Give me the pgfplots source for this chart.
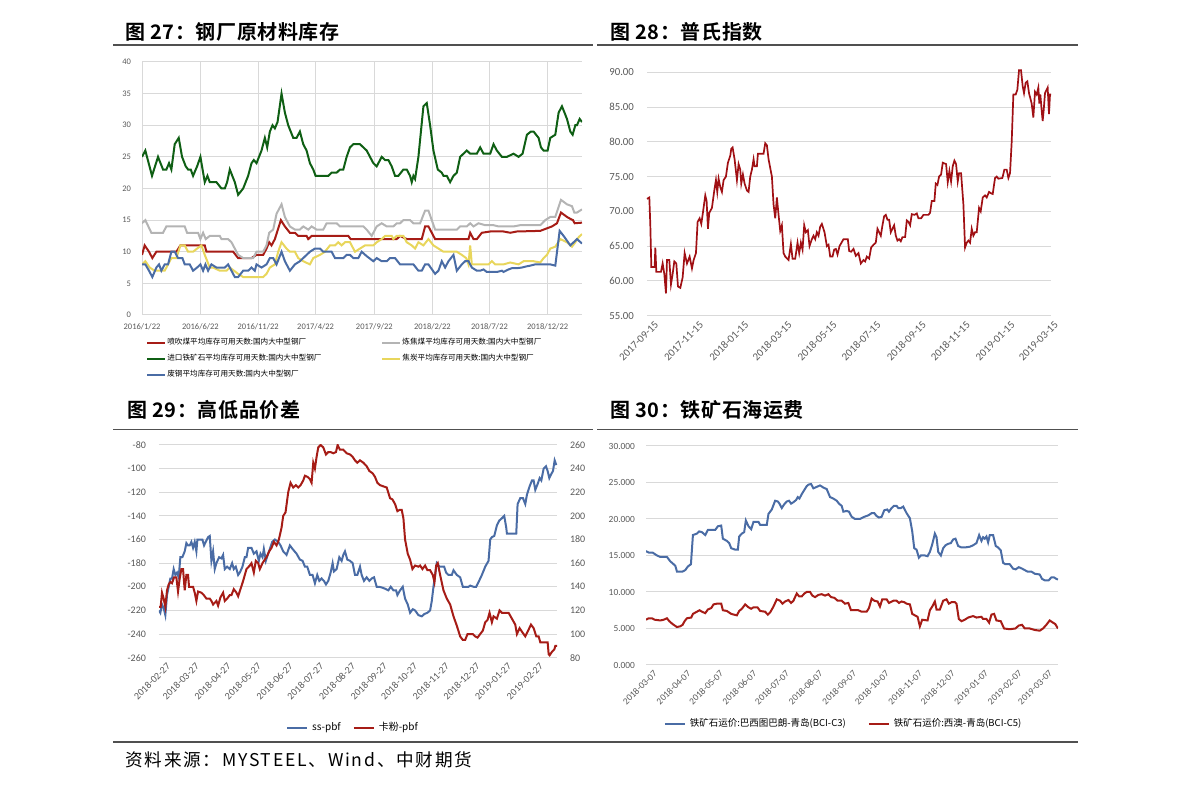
\documentclass[border=0pt]{standalone}
\usepackage{fontspec}
\setmainfont{Carlito}
\newfontfamily\cjk{Noto Sans CJK SC}
\newfontfamily\cjkb{Noto Sans CJK SC Bold}[LetterSpace=3]
\newfontfamily\cjks{Noto Sans CJK SC}[LetterSpace=10]
\usepackage{pgfplots}
\pgfplotsset{compat=1.18}
\definecolor{cRed}{RGB}{166,28,22}
\definecolor{cGreen}{RGB}{15,95,20}
\definecolor{cGray}{RGB}{180,180,180}
\definecolor{cYellow}{RGB}{232,214,92}
\definecolor{cBlue}{RGB}{74,108,165}
\definecolor{cRed2}{RGB}{160,16,20}
\definecolor{gridc}{RGB}{217,217,217}
\definecolor{tickc}{RGB}{89,89,89}
\definecolor{hdr}{RGB}{80,80,80}
\pgfplotsset{
  base/.style={scale only axis, anchor=south west, enlargelimits=false,
    axis line style={draw=none}, major tick length=0pt, tick style={draw=none},
    major grid style={gridc, line width=0.5pt}, ticklabel style={text=tickc},
    /pgf/number format/assume math mode=true, scaled y ticks=false,
    legend cell align=left,
    legend image code/.code={\draw[##1] (0pt,0pt) -- (10pt,0pt);}},
}
\begin{document}
\begin{tikzpicture}
\path[use as bounding box] (0,0) rectangle (595.5pt,395pt);
% header lines
\draw[line width=0.75pt, hdr] (56.5pt,372.5pt) -- (296.5pt,372.5pt);
\draw[line width=0.75pt, hdr] (298.5pt,372.5pt) -- (539pt,372.5pt);
\draw[line width=0.75pt, hdr] (56.5pt,180.25pt) -- (296.5pt,180.25pt);
\draw[line width=0.75pt, hdr] (298.5pt,180.25pt) -- (539pt,180.25pt);
\draw[line width=0.75pt, hdr] (56.5pt,24pt) -- (539pt,24pt);
% titles
\node[anchor=west, inner sep=0pt] at (62.5pt,379pt) {\cjkb\fontsize{10pt}{12pt}\selectfont 图 27：钢厂原材料库存};
\node[anchor=west, inner sep=0pt] at (305pt,379pt) {\cjkb\fontsize{10pt}{12pt}\selectfont 图 28：普氏指数};
\node[anchor=west, inner sep=0pt] at (63.5pt,190pt) {\cjkb\fontsize{10pt}{12pt}\selectfont 图 29：高低品价差};
\node[anchor=west, inner sep=0pt] at (305pt,190pt) {\cjkb\fontsize{10pt}{12pt}\selectfont 图 30：铁矿石海运费};
\node[anchor=west, inner sep=0pt] at (62.5pt,15pt) {\cjks\fontsize{8.8pt}{10pt}\selectfont 资料来源：MYSTEEL、Wind、中财期货};

% ---------------- Panel 27 ----------------
\begin{axis}[base, at={(71pt,237.5pt)}, width=220pt, height=126.5pt,
  xmin=97, xmax=1415, ymin=0, ymax=40, ytick={0,5,...,40},
  xtick={97,272,445,617,793,967,1138,1312},
  xticklabels={2016/1/22,2016/6/22,2016/11/22,2017/4/22,2017/9/22,2018/2/22,2018/7/22,2018/12/22},
  xmajorgrids, ymajorgrids,
  ticklabel style={font=\fontsize{4.25pt}{5pt}\selectfont},
  yticklabel style={xshift=-2pt},
  xticklabel style={yshift=-1pt},
  legend columns=2,
  legend style={draw=none, fill=none, at={(0.009,-0.087)}, anchor=north west,
    font=\cjk\fontsize{3.8pt}{4.5pt}\selectfont, inner sep=0pt, row sep=2.8pt,
    nodes={inner sep=0.5pt, text height=3.2pt, text depth=1pt},
    /tikz/every even column/.append style={column sep=29.5pt}},
  legend image code/.code={\draw[#1] (0pt,0pt) -- (9pt,0pt);},
  every axis plot/.append style={line width=1pt}]
\addplot[cRed] coordinates {(97,9.5)(105,11)(118,10)(128,9)(140,10)(200,10)(212,11)(285,11)(290,10)(370,10)(385,9)(425,9)(440,9.5)(460,9.5)(470,10.5)(478,11.5)(485,11)(495,12)(513,15)(525,14)(540,13)(555,13)(565,12.5)(590,12.5)(595,12)(605,12.5)(715,12.5)(722,12)(860,12)(870,12.5)(890,12)(935,12)(945,14)(955,14)(975,12)(1075,12)(1080,13)(1090,12)(1100,12)(1115,13)(1140,13.2)(1180,13.2)(1200,13)(1220,13.2)(1290,13.3)(1310,13.7)(1325,14)(1340,14.5)(1352,16.2)(1370,15.5)(1380,15.2)(1388,15)(1393,14.5)(1415,14.6)};
\addlegendentry{喷吹煤平均库存可用天数:国内大中型钢厂}
\addplot[cGray] coordinates {(97,14.5)(107,15)(125,13)(160,13)(170,14)(225,14)(232,13)(265,13)(272,12)(280,13)(288,12)(300,12.5)(330,12.5)(335,12)(355,12)(365,11.5)(375,10.5)(385,9.5)(400,9)(430,9)(440,10)(460,10)(470,11)(478,13)(490,13.5)(500,16)(515,17.5)(525,15.5)(540,14)(555,13.5)(570,13.5)(580,14)(595,13.5)(605,14)(620,13.5)(640,13.5)(650,14.5)(680,14.5)(690,14)(760,14)(770,13.5)(785,12.5)(800,14)(815,14.5)(830,14)(850,14)(860,14.5)(870,14.5)(880,15)(900,15)(910,14.5)(930,14.5)(945,16.5)(955,16.5)(975,13.5)(1000,13.5)(1040,13.5)(1050,14)(1070,14)(1080,14.5)(1090,14)(1105,14.5)(1125,14.2)(1150,14.2)(1165,14)(1210,14)(1230,14.2)(1245,14.2)(1290,14.2)(1305,15)(1320,15.5)(1335,15.5)(1352,18.2)(1370,17.5)(1385,17.2)(1392,16.2)(1400,16.2)(1415,16.7)};
\addlegendentry{炼焦煤平均库存可用天数:国内大中型钢厂}
\addplot[cGreen] coordinates {(97,25)(107,26)(127,22)(145,25)(160,23)(170,23)(178,24)(185,23)(195,27)(207,28)(217,25)(228,23.5)(235,23)(243,23)(250,22)(262,23.5)(272,25)(285,21)(293,22)(300,21)(320,21)(335,20)(345,20)(352,21)(360,23)(375,21)(385,19)(400,20)(415,22)(425,24)(432,24.5)(440,24)(455,26)(465,28)(472,26.5)(480,29)(488,30)(495,29.5)(503,30.5)(515,35)(525,32)(535,30)(550,28)(560,28)(570,29)(580,27)(590,26)(600,24)(610,23)(617,22)(655,22)(665,22.5)(680,22.5)(690,23)(700,23)(710,25)(720,26.5)(730,27)(750,27)(760,26.5)(770,26)(790,24)(800,23.5)(815,25)(825,24.5)(835,24.5)(845,23.5)(855,22)(865,22)(880,23)(890,23)(900,22)(905,21)(910,22)(915,21.5)(925,25)(940,33)(950,33.5)(960,30)(970,26)(983,23)(995,22.5)(1000,22)(1010,22)(1020,21)(1030,22)(1040,22.5)(1050,25)(1060,25.5)(1070,26)(1080,25.5)(1100,25.5)(1110,26.5)(1120,25.5)(1140,25.5)(1150,27)(1160,26)(1175,25)(1190,25)(1210,25.5)(1225,25)(1237,25.5)(1250,28.5)(1262,29)(1270,29)(1285,28)(1292,26.5)(1300,26)(1312,26)(1320,28)(1335,28.5)(1345,32)(1355,33)(1370,31)(1380,29)(1387,28.5)(1395,30)(1400,30)(1408,31)(1415,30.5)};
\addlegendentry{进口铁矿石平均库存可用天数:国内大中型钢厂}
\addplot[cYellow] coordinates {(97,8)(107,8.5)(120,7.5)(135,7)(150,7)(165,7)(175,8)(185,9)(200,9)(212,11)(225,11)(235,10)(250,10)(262,10.5)(275,11)(285,9.5)(300,7.5)(310,7.5)(330,7)(350,7)(360,7.5)(385,6.5)(400,6)(460,6)(470,6.5)(480,7.5)(495,8)(505,10)(515,11.5)(530,10.5)(540,10)(555,10)(565,9)(580,8.5)(600,8)(610,9)(630,9.5)(645,10)(660,11)(675,11)(685,11.5)(695,11)(705,11.5)(720,11.5)(735,10)(750,10.5)(765,11)(790,11)(800,11.5)(815,12)(825,12.5)(845,12.5)(850,12)(860,12.5)(880,12.5)(890,11.5)(905,11)(915,10.5)(925,11.5)(940,11)(955,12)(970,11)(985,10.5)(1000,10)(1040,10)(1055,9.5)(1068,9)(1075,8)(1080,11)(1085,8)(1135,8)(1145,8.5)(1155,8)(1180,8)(1200,8.3)(1225,8)(1240,8.5)(1270,8.5)(1290,8.3)(1300,9)(1310,9.5)(1320,10.5)(1335,10.8)(1350,12)(1370,11.5)(1385,10.8)(1395,11.5)(1405,12.3)(1415,12.8)};
\addlegendentry{焦炭平均库存可用天数:国内大中型钢厂}
\addplot[cBlue] coordinates {(97,8)(107,8)(118,7)(128,6)(140,7.5)(148,8)(155,7)(165,8)(175,8)(185,10)(195,10)(205,9)(218,9)(225,8)(240,8)(250,7)(262,7.5)(272,8)(280,7)(287,8)(295,7)(305,8)(320,7.5)(345,7.5)(355,8)(365,7)(375,6)(385,6)(400,7)(415,7)(425,7.5)(435,7)(440,8)(455,7.5)(470,8)(480,9)(490,9)(500,8)(515,10)(525,8.5)(540,7)(555,8)(570,8.5)(590,9.5)(600,10)(615,10.5)(630,10.5)(640,10)(665,10)(675,9)(700,9)(710,9.5)(720,9.5)(730,9)(745,9)(755,10)(770,9.3)(790,8.5)(800,9)(815,8.5)(830,8.5)(840,9)(855,9)(870,8)(910,8)(925,7)(935,7)(945,8)(955,8)(975,6.5)(985,7)(995,8.5)(1005,7.5)(1015,8.5)(1030,9.5)(1040,7)(1055,8)(1065,8.5)(1075,8.5)(1085,7.5)(1100,7)(1110,7)(1120,7.2)(1130,6.8)(1160,6.8)(1175,7)(1180,6.8)(1195,7.2)(1205,7.4)(1220,7.4)(1235,7.5)(1250,7.7)(1260,7.8)(1275,8)(1300,8)(1320,8)(1335,7.8)(1348,13.3)(1360,12.5)(1380,11)(1400,12)(1415,11.3)};
\addlegendentry{废钢平均库存可用天数:国内大中型钢厂}
\end{axis}

% ---------------- Panel 28 ----------------
\begin{axis}[base, at={(323.5pt,237.15pt)}, width=202pt, height=121.7pt,
  xmin=155, xmax=1368, ymin=55, ymax=90, ytick={55,60,...,90}, clip=false,
  xtick={155,290,425,555,690,822,958,1090,1225,1355},
  xticklabels={2017-09-15,2017-11-15,2018-01-15,2018-03-15,2018-05-15,2018-07-15,2018-09-15,2018-11-15,2019-01-15,2019-03-15},
  ymajorgrids,
  yticklabel={\pgfmathprintnumber[fixed,fixed zerofill,precision=2]{\tick}},
  ticklabel style={font=\fontsize{5.4pt}{6pt}\selectfont},
  yticklabel style={xshift=-3pt},
  xticklabel style={rotate=45, anchor=north east, inner sep=1pt, yshift=-3pt, xshift=2pt}]
\addplot[cRed2, line width=0.85pt] coordinates {(155,71.8)(162,72)(165,68)(168,62)(178,62)(180,64.8)(183,61.3)(197,61.3)(202,62.5)(207,61)(212,58.2)(215,63)(222,63)(227,59.5)(232,61)(237,62.8)(243,62.5)(248,59.2)(255,59)(262,60.5)(268,64)(275,62.5)(283,63.5)(290,61.8)(295,63)(302,64)(307,68.5)(313,69)(318,68.2)(322,69.5)(330,72.3)(334,71.5)(338,67.5)(342,69.8)(350,70.5)(357,73)(362,74.5)(366,72.8)(370,74.7)(375,73.5)(380,72.8)(385,74.5)(392,75)(398,77)(405,78)(408,79)(412,79.2)(418,77.5)(425,74.5)(430,76.8)(435,76)(438,74)(443,75.3)(448,74)(455,73)(460,72.8)(465,75)(470,76)(475,77.5)(478,76.5)(485,76.5)(488,78.3)(505,78.3)(510,79.8)(515,79.5)(520,77.5)(530,75)(535,71)(540,69)(545,72)(550,69.5)(555,67.2)(560,68)(565,64)(570,63.5)(580,63)(587,65.3)(592,63.2)(600,63.2)(607,65.5)(612,64)(617,65.5)(622,64.5)(627,68)(632,67)(638,67.3)(643,65)(650,66)(655,66.5)(660,66)(665,67)(670,66.5)(675,67.8)(680,68.2)(688,67)(695,65)(700,65.2)(705,63.5)(712,63.5)(717,64.5)(722,64.6)(727,63.8)(733,65)(745,66)(758,66)(762,64.3)(768,64.2)(775,64.6)(782,63.6)(790,64)(797,62.5)(805,63)(810,62.8)(815,63.5)(822,63.2)(828,64.8)(835,65.2)(842,65.5)(847,67.5)(852,67)(857,66.5)(862,68)(867,69.3)(872,69.5)(877,68.8)(882,68.8)(887,67)(892,67.5)(897,68)(902,66.5)(907,65.8)(912,66)(917,65.7)(922,66.3)(930,66.3)(935,68.7)(940,68.5)(945,68)(950,69.6)(958,69.5)(965,69.7)(970,69)(978,69)(985,69.5)(995,69.5)(1000,69.5)(1005,69.8)(1010,71.5)(1018,71.5)(1022,74)(1027,73.8)(1032,75)(1038,75.3)(1043,77)(1048,76.9)(1053,76.8)(1058,74.2)(1063,75.8)(1068,74.3)(1073,76.5)(1078,77.3)(1083,76.8)(1088,74.3)(1092,75.5)(1098,75.5)(1105,71)(1110,64.8)(1115,65.5)(1120,65.8)(1125,65.5)(1130,67.5)(1135,66.5)(1140,67)(1145,67)(1152,70.5)(1157,70)(1163,72)(1170,72.3)(1175,72)(1182,72.8)(1188,72.6)(1193,72.5)(1200,74.8)(1205,75)(1210,74.7)(1222,74.8)(1228,76)(1235,76)(1240,74.8)(1245,75.5)(1250,80)(1255,86.8)(1262,86.8)(1267,87.5)(1272,90.3)(1278,90.3)(1283,88)(1287,87)(1292,88.5)(1297,88.7)(1302,87)(1310,85.5)(1315,83.5)(1320,87.2)(1325,86.8)(1330,87.8)(1333,85.5)(1336,86.8)(1340,84.5)(1343,83)(1346,84.5)(1350,87)(1355,87.5)(1358,87.8)(1362,84)(1365,86.8)(1368,86.8)};
\end{axis}

% ---------------- Panel 29 ----------------
\begin{axis}[base, at={(79.5pt,66.15pt)}, width=199pt, height=106.35pt,
  xmin=148, xmax=1340, ymin=-260, ymax=-80, ytick={-260,-240,...,-80},
  xtick={148,234,329,420,515,607,702,797,888,983,1075,1170,1265},
  xticklabels={2018-02-27,2018-03-27,2018-04-27,2018-05-27,2018-06-27,2018-07-27,2018-08-27,2018-09-27,2018-10-27,2018-11-27,2018-12-27,2019-01-27,2019-02-27},
  ymajorgrids,
  ticklabel style={font=\fontsize{5pt}{6pt}\selectfont},
  yticklabel style={xshift=-3pt},
  xticklabel style={rotate=45, anchor=north east, inner sep=1pt, yshift=-3pt, xshift=2pt}]
\addplot[cBlue, line width=1pt] coordinates {(148,-220)(152,-222)(157,-215)(162,-218)(167,-224)(172,-207)(177,-200)(182,-193)(187,-193)(192,-185)(197,-190)(202,-188)(207,-192)(212,-175)(218,-175)(225,-170)(230,-163)(235,-165)(240,-165)(245,-162)(250,-167)(255,-162)(260,-170)(263,-160)(270,-160)(278,-160)(283,-165)(288,-162)(295,-158)(300,-157)(305,-178)(310,-170)(315,-185)(320,-180)(328,-175)(335,-176)(340,-173)(345,-185)(352,-183)(360,-185)(367,-180)(372,-185)(378,-183)(385,-190)(390,-188)(398,-183)(405,-175)(410,-175)(415,-167)(425,-167)(432,-172)(440,-170)(447,-178)(452,-172)(458,-175)(462,-168)(468,-178)(475,-172)(480,-168)(487,-162)(495,-160)(505,-162)(512,-165)(520,-170)(530,-173)(540,-165)(548,-168)(560,-172)(570,-177)(578,-178)(585,-183)(592,-183)(600,-190)(608,-190)(615,-197)(622,-190)(628,-195)(635,-193)(642,-195)(648,-198)(655,-195)(662,-188)(668,-180)(672,-187)(680,-185)(688,-175)(695,-178)(700,-173)(705,-170)(712,-177)(720,-178)(728,-180)(735,-190)(742,-190)(750,-183)(755,-190)(762,-195)(770,-192)(778,-195)(785,-193)(792,-192)(800,-200)(808,-200)(820,-201)(835,-203)(842,-200)(850,-203)(858,-203)(862,-207)(870,-203)(878,-200)(885,-210)(893,-215)(900,-222)(908,-219)(915,-220)(925,-224)(935,-225)(943,-223)(952,-222)(960,-220)(965,-212)(970,-200)(975,-190)(980,-180)(988,-183)(995,-183)(1002,-183)(1008,-188)(1015,-190)(1025,-190)(1030,-186)(1040,-190)(1050,-192)(1058,-200)(1065,-200)(1075,-200)(1080,-199)(1090,-200)(1098,-200)(1105,-196)(1115,-190)(1125,-183)(1135,-178)(1140,-160)(1145,-158)(1152,-157)(1160,-148)(1167,-144)(1175,-142)(1182,-140)(1188,-150)(1190,-155)(1218,-155)(1222,-130)(1230,-125)(1238,-125)(1245,-130)(1250,-122)(1258,-115)(1265,-110)(1270,-110)(1275,-118)(1282,-113)(1288,-108)(1293,-110)(1300,-100)(1307,-98)(1312,-102)(1317,-108)(1322,-105)(1328,-102)(1333,-93)(1338,-97)};
\end{axis}
\begin{axis}[base, at={(79.5pt,66.15pt)}, width=199pt, height=106.35pt,
  xmin=148, xmax=1340, ymin=80, ymax=260, ytick={80,100,...,260},
  axis y line*=right, axis x line=none, axis line style={draw=none},
  ticklabel style={font=\fontsize{5pt}{6pt}\selectfont},
  yticklabel style={xshift=3pt},
  legend columns=-1,
  legend style={draw=none, fill=none, at={(0.49,-0.33)}, anchor=center,
    font=\cjk\fontsize{5pt}{6pt}\selectfont, inner sep=0pt,
    /tikz/every even column/.append style={column sep=4pt}}]
\addlegendimage{cBlue, line width=1pt}
\addlegendentry{ss-pbf}
\addplot[cRed, line width=1pt] coordinates {(148,123)(153,123)(157,135)(162,130)(167,123)(172,137)(177,142)(182,144)(187,143)(193,148)(200,148)(205,136)(210,147)(215,155)(220,155)(225,137)(230,150)(235,150)(238,140)(245,140)(250,140)(255,135)(260,128)(265,136)(275,135)(282,133)(290,130)(300,130)(305,128)(310,125)(320,128)(325,124)(332,131)(340,135)(345,128)(352,130)(360,133)(365,133)(372,138)(380,135)(385,132)(392,138)(400,145)(405,150)(410,155)(420,158)(425,160)(432,152)(438,162)(445,160)(450,155)(458,160)(465,163)(470,165)(478,170)(485,173)(492,178)(500,175)(507,180)(515,190)(520,200)(527,203)(535,220)(542,228)(550,224)(558,226)(565,224)(572,226)(580,230)(585,234)(593,233)(600,231)(605,228)(610,245)(615,240)(620,250)(625,258)(632,260)(640,258)(648,252)(655,254)(662,254)(670,253)(678,254)(683,260)(690,256)(700,256)(710,253)(720,252)(728,250)(735,247)(742,245)(750,247)(760,245)(770,242)(778,238)(788,236)(795,233)(802,228)(810,226)(820,225)(830,224)(840,215)(847,214)(855,210)(862,204)(868,205)(875,205)(880,198)(885,180)(893,168)(900,163)(907,155)(915,158)(925,157)(930,158)(937,155)(945,158)(952,154)(960,154)(968,150)(973,144)(978,158)(983,160)(990,150)(1000,137)(1010,130)(1020,125)(1030,115)(1040,107)(1050,98)(1058,95)(1065,95)(1072,100)(1080,100)(1088,100)(1095,98)(1102,97)(1110,100)(1118,103)(1125,110)(1132,112)(1138,118)(1145,110)(1150,115)(1160,113)(1168,120)(1175,118)(1185,118)(1195,118)(1205,113)(1215,108)(1220,100)(1228,105)(1235,102)(1245,98)(1252,102)(1262,108)(1270,105)(1278,98)(1285,98)(1290,93)(1295,93)(1305,93)(1312,93)(1315,83)(1318,82)(1325,85)(1332,87)(1335,90)(1340,90)};
\addlegendentry{卡粉-pbf}
\end{axis}

% ---------------- Panel 30 ----------------
\begin{axis}[base, at={(323pt,62.5pt)}, width=206pt, height=109.5pt,
  xmin=152, xmax=1390, ymin=0, ymax=30, ytick={0,5,...,30},
  xtick={152,253,351,451,549,650,751,849,949,1047,1148,1249,1340},
  xticklabels={2018-03-07,2018-04-07,2018-05-07,2018-06-07,2018-07-07,2018-08-07,2018-09-07,2018-10-07,2018-11-07,2018-12-07,2019-01-07,2019-02-07,2019-03-07},
  ymajorgrids,
  yticklabel={\pgfmathprintnumber[fixed,fixed zerofill,precision=3]{\tick}},
  ticklabel style={font=\fontsize{4.7pt}{5.5pt}\selectfont},
  yticklabel style={xshift=-2pt},
  xticklabel style={rotate=45, anchor=north east, inner sep=1pt, yshift=-3pt, xshift=2pt},
  legend columns=-1,
  legend style={draw=none, fill=none, at={(0.482,-0.269)}, anchor=center,
    font=\cjk\fontsize{4.75pt}{5.5pt}\selectfont, inner sep=0pt,
    /tikz/every even column/.append style={column sep=9pt}},
  every axis plot/.append style={line width=1pt}]
\addplot[cBlue] coordinates {(152,15.6)(160,15.4)(172,15.4)(185,15)(195,14.8)(215,14.8)(225,14.2)(235,13.8)(240,13.6)(245,12.8)(262,12.8)(270,13)(278,13.5)(287,13.8)(293,17.8)(305,18)(312,18.3)(320,18.2)(330,17.8)(338,18.5)(355,18.5)(360,18.5)(368,19)(378,19.1)(383,17.3)(395,17)(402,16.7)(408,16)(420,15.8)(428,15.8)(432,17.6)(440,18)(447,18.2)(452,19.8)(460,19)(468,18.6)(475,19.6)(490,19.6)(495,19.2)(515,19.2)(520,20.7)(530,21.3)(540,22.5)(548,22.4)(553,22.1)(560,21.5)(567,22)(575,22.4)(582,22.5)(588,22.1)(595,22.3)(603,22.6)(608,23)(613,22.8)(620,23.4)(628,24)(635,24.5)(640,24.7)(648,24.8)(655,24.2)(665,24.4)(675,24.6)(685,24.3)(695,24.1)(705,23)(715,22.8)(725,22.5)(732,22.1)(740,21.8)(745,21)(755,21.1)(762,21)(770,20.3)(780,20)(795,20)(808,20.3)(820,20.5)(830,20.8)(838,20.8)(845,20.4)(852,20.2)(860,20.3)(868,21.2)(877,21.3)(882,21)(890,21.5)(897,21.8)(905,21.8)(910,21.5)(918,21.5)(925,21.7)(935,20.8)(945,20.1)(952,18.3)(958,16)(965,15.8)(972,14.7)(978,15)(990,15)(998,14.9)(1005,15.5)(1012,16.5)(1020,18)(1025,17.5)(1030,15.5)(1038,15)(1045,16)(1052,16.4)(1060,16.6)(1068,16.7)(1075,17.2)(1082,17.3)(1090,16.3)(1100,16.1)(1110,16.1)(1125,16.2)(1135,16.4)(1145,16.7)(1153,17.8)(1160,17)(1165,17.5)(1170,17.3)(1175,17.6)(1180,16.8)(1185,17.8)(1195,17.8)(1203,16.3)(1210,16.1)(1218,15.7)(1225,14)(1232,13.8)(1245,13.8)(1255,13.2)(1263,13.1)(1272,13.4)(1282,13.2)(1290,13)(1298,12.8)(1310,12.8)(1320,12.5)(1335,12.4)(1342,11.8)(1350,11.6)(1362,11.6)(1370,12)(1378,12)(1385,11.8)(1390,11.7)};
\addlegendentry{铁矿石运价:巴西图巴朗-青岛(BCI-C3)}
\addplot[cRed] coordinates {(152,6.2)(160,6.4)(170,6.4)(178,6.2)(195,6.1)(205,6.2)(215,6.4)(222,6)(232,5.6)(245,5.2)(255,5.3)(262,5.5)(268,6)(275,6.4)(288,6.5)(293,7)(305,7.3)(313,7.5)(320,7.3)(330,7.1)(338,7.6)(348,7.8)(355,8.3)(365,8.4)(378,8.4)(383,7.5)(395,7.4)(408,7)(425,6.8)(432,7.4)(440,7.7)(450,8.3)(460,7.9)(468,7.7)(475,7.9)(487,7.9)(495,7.4)(510,7.3)(518,6.9)(525,7.2)(535,8)(545,9)(555,8.8)(562,8.4)(570,8.7)(580,8.9)(588,8.5)(595,8.8)(605,9.8)(612,9.4)(620,9.4)(628,9.8)(635,10)(645,10)(652,9.5)(660,9.3)(670,9.6)(680,9.7)(690,9.5)(700,9.7)(708,9.3)(718,9.2)(728,8.8)(740,8.8)(750,8.4)(760,8.5)(768,7.5)(780,7.5)(790,7.5)(800,7.3)(815,7.3)(822,7.8)(830,9.1)(838,8.8)(848,8.7)(855,8)(862,9)(875,9)(882,8.5)(895,8.8)(905,8.8)(912,8.5)(920,8.7)(928,8.6)(935,8.4)(945,8.3)(952,7)(960,6.8)(968,6.6)(975,5.3)(982,6.2)(998,6.1)(1005,7.5)(1012,8)(1020,8.7)(1025,7.6)(1035,7.6)(1045,8.8)(1055,9)(1062,8.4)(1070,8.6)(1080,8.6)(1085,8.4)(1092,6.3)(1100,6)(1110,6.2)(1120,6.5)(1135,6.7)(1145,6.5)(1160,6.6)(1165,6.3)(1175,6.3)(1183,5.8)(1190,6.9)(1198,7)(1205,6.1)(1218,6)(1228,5)(1245,4.9)(1262,5)(1272,5.4)(1282,5.5)(1290,5)(1305,5)(1320,4.8)(1335,4.7)(1345,5)(1355,5.5)(1365,6.1)(1375,5.8)(1382,5.6)(1387,5.2)(1390,5)};
\addlegendentry{铁矿石运价:西澳-青岛(BCI-C5)}
\end{axis}
\end{tikzpicture}
\end{document}
